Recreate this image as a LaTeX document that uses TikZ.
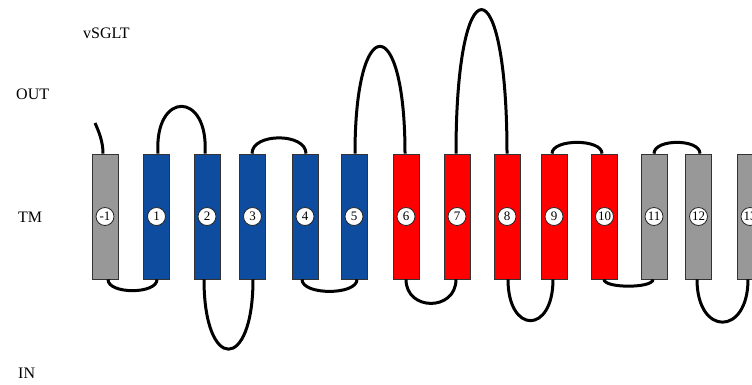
\documentclass[tikz,border=0pt]{standalone}
\usepackage{fontspec}
\setmainfont{Liberation Serif}
\definecolor{tmblue}{RGB}{14,76,160}
\definecolor{tmred}{RGB}{255,0,0}
\definecolor{tmgray}{RGB}{152,152,152}
\begin{document}
\begin{tikzpicture}[x=1pt,y=-1pt,
  tm/.style={draw=black!80, line width=0.8pt, minimum width=26pt, minimum height=125pt, inner sep=0pt},
  num/.style={circle, draw=black!85, fill=white, line width=0.8pt, minimum size=18pt, inner sep=0pt, font=\fontsize{13}{13}\selectfont},
  loopline/.style={line width=3pt, black},
  lab/.style={anchor=base west, inner sep=0pt, font=\fontsize{16}{16}\selectfont}]
\useasboundingbox (0,0) rectangle (752,384);
\clip (0,0) rectangle (752,384);
\foreach \n/\x/\c/\t in {m1/105/tmgray/-1, 1/156.5/tmblue/1, 2/207/tmblue/2, 3/252.5/tmblue/3, 4/305/tmblue/4, 5/354/tmblue/5, 6/406/tmred/6, 7/457/tmred/7, 8/507/tmred/8, 9/554/tmred/9, 10/604.5/tmred/10, 11/654/tmgray/11, 12/698.5/tmgray/12, 13/750/tmgray/13}{
  \node[tm, fill=\c] (b\n) at (\x,216.5) {};
  \node[num] (c\n) at (b\n.center) {\t};
}
\coordinate (nt) at (95,123);
\draw[loopline] ([xshift=-2pt]bm1.north) .. controls +(0,-12) and +(4,9) .. (nt);
\draw[loopline] ([xshift=3pt]bm1.south) .. controls +(0,15) and +(0,15) .. ([xshift=0.5pt]b1.south);
\draw[loopline] ([xshift=1.5pt]b1.north) .. controls +(-4,-63) and +(4,-63) .. ([xshift=-2pt]b2.north);
\draw[loopline] ([xshift=-3pt]b2.south) .. controls +(0,93) and +(0,93) .. ([xshift=0.5pt]b3.south);
\draw[loopline] ([xshift=-0.5pt]b3.north) .. controls +(0,-21) and +(0,-21) .. ([xshift=1pt]b4.north);
\draw[loopline] ([xshift=-3pt]b4.south) .. controls +(0,16) and +(0,16) .. ([xshift=3pt]b5.south);
\draw[loopline] ([xshift=1pt]b5.north) .. controls +(0,-143) and +(0,-143) .. ([xshift=-1pt]b6.north);
\draw[loopline] (b6.south) .. controls +(0,32) and +(0,32) .. ([xshift=-1pt]b7.south);
\draw[loopline] ([xshift=-1pt]b7.north) .. controls +(0,-192) and +(0,-192) .. (b8.north);
\draw[loopline] ([xshift=1pt]b8.south) .. controls +(0,55) and +(0,55) .. ([xshift=-1pt]b9.south);
\draw[loopline] ([xshift=-2pt]b9.north) .. controls +(0,-15) and +(0,-15) .. ([xshift=-2.5pt]b10.north);
\draw[loopline] ([xshift=-0.5pt]b10.south) .. controls +(0,9) and +(0,9) .. ([xshift=-1pt]b11.south);
\draw[loopline] (b11.north) .. controls +(0,-15) and +(0,-15) .. ([xshift=1.5pt]b12.north);
\draw[loopline] ([xshift=-1.5pt]b12.south) .. controls +(0,57) and +(0,57) .. ([xshift=-2pt]b13.south);
\node[lab] (title) at (83,38) {vSGLT};
\node[lab] (out) at (16,99) {OUT};
\node[lab] (tmlab) at (18,222) {TM};
\node[lab] (in) at (18,378) {IN};
\end{tikzpicture}
\end{document}
